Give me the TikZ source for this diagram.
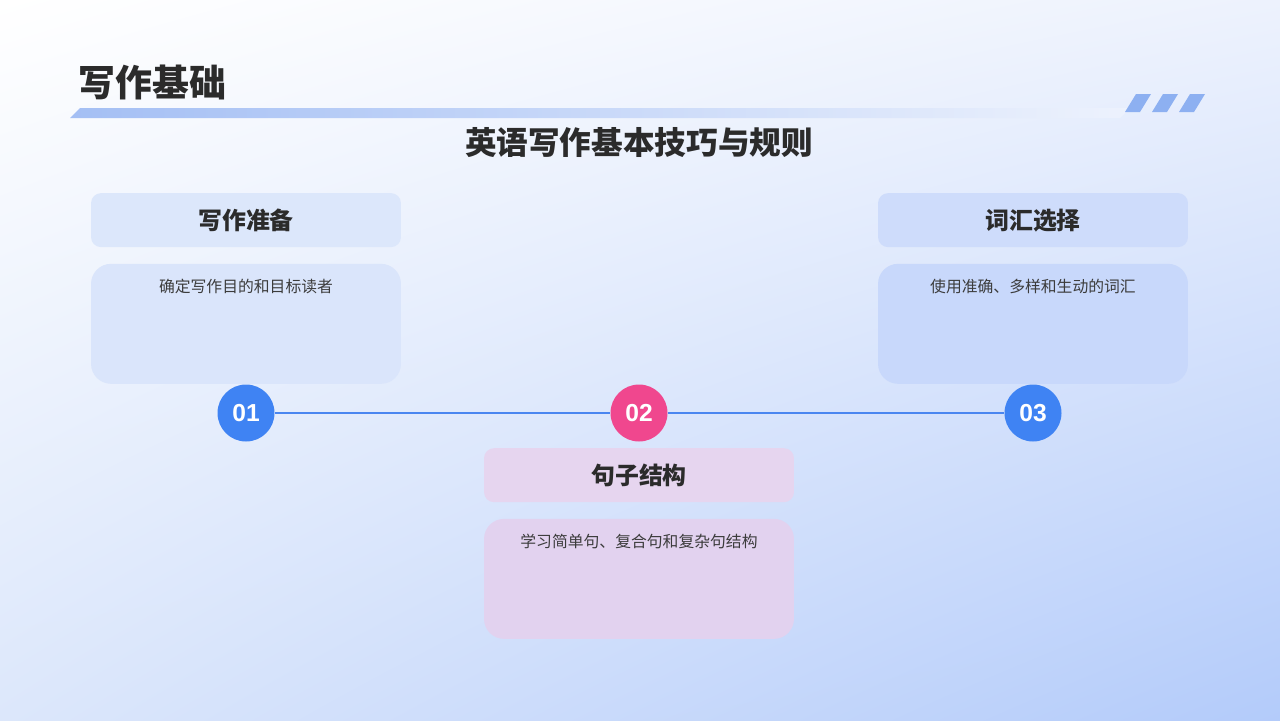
\documentclass[tikz,border=0pt]{standalone}
\usepackage{fontspec}
\setmainfont{Liberation Sans}
\newfontfamily\cjk{Noto Sans CJK SC}
\usepackage{xcolor}
\usepackage{tikz}
\usetikzlibrary{positioning, shadings}

\definecolor{txtdark}{HTML}{2B2B2B}
\definecolor{txtmid}{HTML}{3C3C3C}
\definecolor{dotblue}{HTML}{3F83F3}
\definecolor{dotpink}{HTML}{F0478E}
\definecolor{linkblue}{HTML}{4A86F0}
\definecolor{barblue}{HTML}{A4BFF4}
\definecolor{barfade}{HTML}{EDF2FD}
\definecolor{stripeblue}{HTML}{8DB0F1}
\definecolor{lefthead}{HTML}{DCE7FB}
\definecolor{leftbody}{HTML}{DAE5FB}
\definecolor{righthead}{HTML}{CEDCFB}
\definecolor{rightbody}{HTML}{C8D8FB}
\definecolor{midhead}{HTML}{E6D5EF}
\definecolor{midbody}{HTML}{E2D2EF}
\definecolor{bgcorner}{HTML}{B3CBFA}

\begin{document}
\begin{tikzpicture}[
    x=0.02cm, y=-0.02cm,
    node distance=0.32cm,
    headbox/.style={rounded corners=0.2cm, minimum width=6.2cm, minimum height=1.08cm,
      inner sep=0pt, font=\cjk\bfseries\fontsize{13.6}{16}\selectfont, text=txtdark},
    bodybox/.style={rounded corners=0.4cm, minimum width=6.2cm, minimum height=2.4cm},
    bodytext/.style={anchor=north, inner sep=0pt, yshift=-0.3cm,
      font=\cjk\fontsize{9}{11}\selectfont, text=txtmid},
    stepdot/.style={circle, minimum size=1.14cm, inner sep=0pt, text=white,
      font=\bfseries\fontsize{14}{16}\selectfont},
    linkline/.style={draw=linkblue, line width=1.2pt},
  ]

  % Background
  \useasboundingbox (0,0) rectangle (1280,720);
  \shade[upper left=white, upper right=barfade, lower left=lefthead,
    lower right=bgcorner] (0,0) rectangle (1280,720);

  % Heading
  \node[anchor=west, inner sep=0pt, text=txtdark,
    font=\cjk\bfseries\fontsize{21}{24}\selectfont] (title) at (78,82) {写作基础};
  \shade[left color=barblue, right color=barfade]
    (70,118) -- (80,108) -- (1130,108) -- (1120,118) -- cycle;
  \foreach \i in {0,1,2}
    \fill[stripeblue] ({1125+27*\i},112) -- ({1136+27*\i},94)
      -- ({1151+27*\i},94) -- ({1140+27*\i},112) -- cycle;
  \node[text=txtdark, font=\cjk\bfseries\fontsize{18}{22}\selectfont]
    (subtitle) at (639,143) {英语写作基本技巧与规则};

  % Steps
  \node[stepdot, fill=dotblue] (c1) at (246,413) {01};
  \node[stepdot, fill=dotpink] (c2) at (639,413) {02};
  \node[stepdot, fill=dotblue] (c3) at (1033,413) {03};
  \path[linkline] (c1.east) -- (c2.west);
  \path[linkline] (c2.east) -- (c3.west);

  % Cards
  \node[bodybox, fill=leftbody, above=0pt of c1] (prepbody) {};
  \node[headbox, fill=lefthead, above=of prepbody] (prephead) {写作准备};
  \node[bodytext] (preptext) at (prepbody.north) {确定写作目的和目标读者};

  \node[headbox, fill=midhead, below=0.12cm of c2] (senthead) {句子结构};
  \node[bodybox, fill=midbody, below=of senthead] (sentbody) {};
  \node[bodytext] (senttext) at (sentbody.north) {学习简单句、复合句和复杂句结构};

  \node[bodybox, fill=rightbody, above=0pt of c3] (wordbody) {};
  \node[headbox, fill=righthead, above=of wordbody] (wordhead) {词汇选择};
  \node[bodytext] (wordtext) at (wordbody.north) {使用准确、多样和生动的词汇};

\end{tikzpicture}
\end{document}
